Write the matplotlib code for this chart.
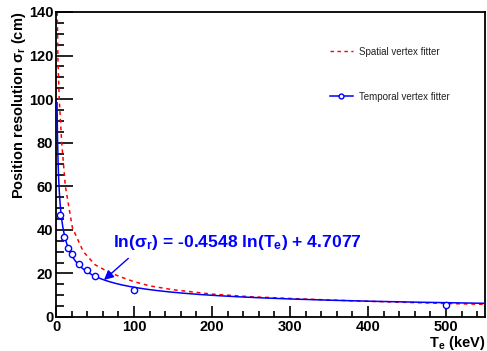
import numpy as np
import matplotlib
matplotlib.use("Agg")
import matplotlib.pyplot as plt
from matplotlib.lines import Line2D

plt.rcParams['font.family'] = ['Liberation Sans', 'DejaVu Sans']
plt.rcParams['mathtext.fontset'] = 'custom'
plt.rcParams['mathtext.rm'] = 'Liberation Sans'
plt.rcParams['mathtext.it'] = 'Liberation Sans:italic'
plt.rcParams['mathtext.bf'] = 'Liberation Sans:bold'
plt.rcParams['mathtext.default'] = 'regular'

# Temporal vertex fitter: measured points
temporal_T = [5, 10, 15, 20, 30, 40, 50, 100, 500]
temporal_sigma = [46.8, 36.6, 31.5, 28.8, 24.4, 21.6, 18.7, 12.5, 5.7]

# Spatial vertex fitter curve
spatial_T = [1.6, 2.5, 4.2, 7.3, 12, 21, 35, 50, 67, 82, 100, 120, 150,
             200, 250, 300, 350, 400, 450, 500, 550]
spatial_sigma = [140, 118, 99.5, 80, 60, 41, 30, 24, 20.7, 18.5, 16.2, 14.3,
                 12.5, 10.5, 9.3, 8.5, 7.8, 7.2, 6.7, 6.2, 5.8]

# Fit shown on the chart: ln(sigma) = slope*ln(T) + intercept
fit_slope = -0.4548
fit_intercept = 4.7077
fit_range = (1.3, 550)

fig = plt.figure(figsize=(4.87, 3.51), dpi=100)
ax = fig.add_axes([0.115, 0.0969, 0.881, 0.869])

# fit curve
t_fit = np.geomspace(*fit_range, 300)
ax.plot(t_fit, np.exp(fit_intercept + fit_slope * np.log(t_fit)),
        color='#0000ff', lw=1.1, zorder=3)
ax.plot(spatial_T, spatial_sigma, color='#ff0000', lw=1.1,
        ls=(0, (2.5, 2.5)), zorder=2)
ax.plot(temporal_T, temporal_sigma, ls='none', marker='o', ms=4.5,
        mfc='white', mec='#0000ff', mew=1.0, zorder=4)

ax.set_xlim(0, 550)
ax.set_ylim(0, 140)
ax.set_xticks(np.arange(0, 501, 100))
ax.set_xticks(np.arange(0, 551, 20), minor=True)
ax.set_yticks(np.arange(0, 141, 20))
ax.set_yticks(np.arange(0, 141, 5), minor=True)
ax.tick_params(which='both', direction='in', top=False, right=False,
               width=1.2, color='black')
ax.tick_params(axis='y', which='major', length=12)
ax.tick_params(axis='y', which='minor', length=6)
ax.tick_params(axis='x', which='major', length=8)
ax.tick_params(axis='x', which='minor', length=4)
ax.tick_params(labelsize=10.5, pad=2)
for lab in ax.get_xticklabels() + ax.get_yticklabels():
    lab.set_fontweight('bold')
for sp in ax.spines.values():
    sp.set_linewidth(1.3)

ax.set_ylabel(r'Position resolution $\sigma_r$ (cm)', fontsize=10.5,
              fontweight='bold', loc='top')
ax.yaxis.set_label_coords(-0.066, 1.0)
ax.set_xlabel(r'T$_e$ (keV)', fontsize=10.5, fontweight='bold', loc='right')
ax.xaxis.set_label_coords(1.0, -0.056)

ax.text(73, 34, r'ln($\sigma_r$) = -0.4548 ln(T$_e$) + 4.7077', color='#0000ff',
        fontsize=12.6, fontweight='bold', va='center', ha='left')
ax.annotate('', xy=(61.5, 17.0), xytext=(92.7, 26.9),
            arrowprops=dict(arrowstyle='-|>', color='#0000ff', lw=1,
                            mutation_scale=14, shrinkA=0, shrinkB=0))

handles = [Line2D([], [], color='#ff0000', lw=1, ls=(0, (2.5, 2.5))),
           Line2D([], [], color='#0000ff', lw=1.1, marker='o', ms=3.5,
                  mfc='white', mec='#0000ff')]
ax.legend(handles, ['Spatial vertex fitter', 'Temporal vertex fitter'],
          loc='upper left', bbox_to_anchor=(0.638, 0.886), frameon=False,
          fontsize=7, labelspacing=3.6, handlelength=2.4,
          handletextpad=0.6, borderpad=0, borderaxespad=0,
          labelcolor='#222222')

fig.savefig('out.png', dpi=100)
